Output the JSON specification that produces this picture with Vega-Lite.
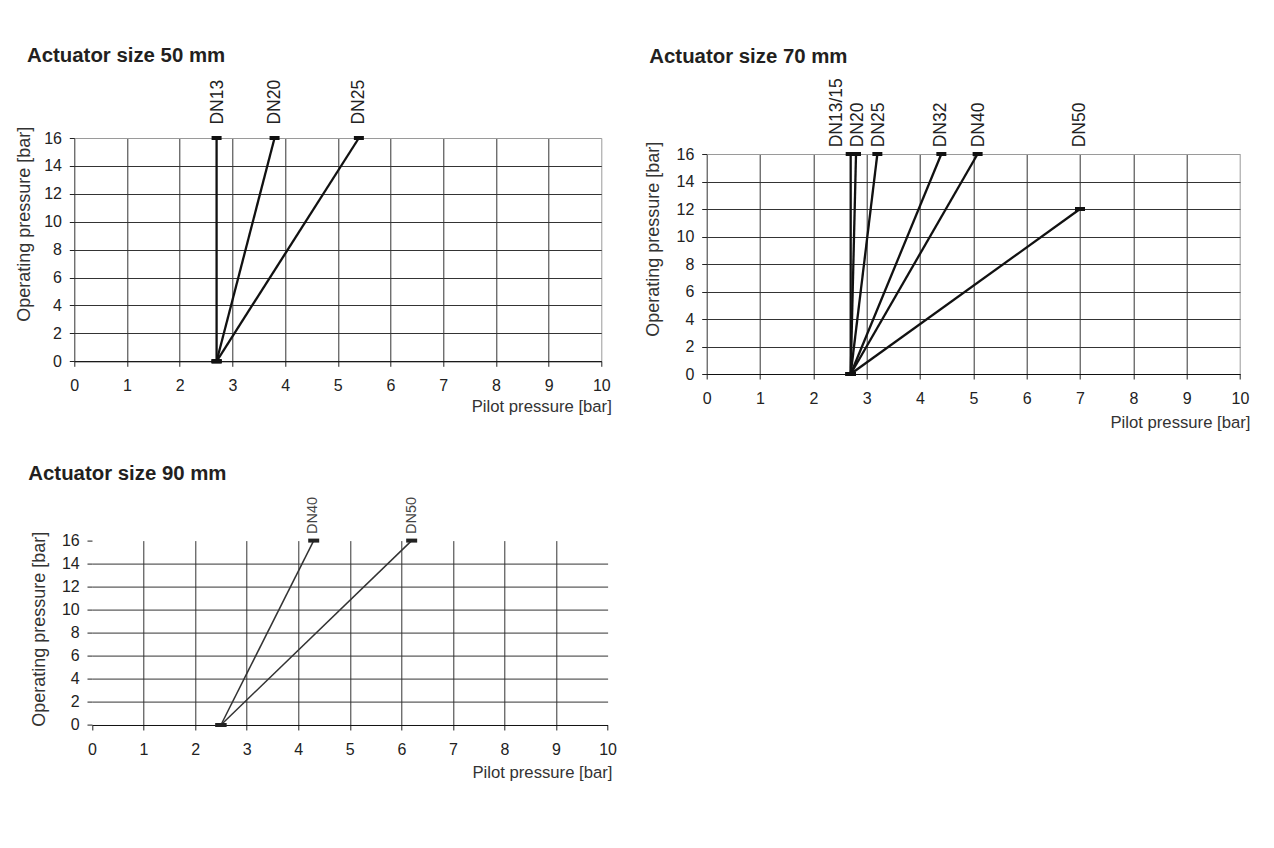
{
  "$schema": "https://vega.github.io/schema/vega-lite/v6.json",
  "background": "white",
  "padding": {"left": 15.3, "top": 46, "right": 10, "bottom": 10},
  "datasets": {
    "p50": [
      {"series": "DN13", "pilot": 2.7, "pressure": 0},
      {"series": "DN13", "pilot": 2.7, "pressure": 16},
      {"series": "DN20", "pilot": 2.7, "pressure": 0},
      {"series": "DN20", "pilot": 3.8, "pressure": 16},
      {"series": "DN25", "pilot": 2.7, "pressure": 0},
      {"series": "DN25", "pilot": 5.4, "pressure": 16}
    ],
    "p50labels": [
      {"label": "DN13", "pilot": 2.72, "pressure": 16},
      {"label": "DN20", "pilot": 3.81, "pressure": 16},
      {"label": "DN25", "pilot": 5.41, "pressure": 16}
    ],
    "p70": [
      {"series": "DN13/15", "pilot": 2.7, "pressure": 0},
      {"series": "DN13/15", "pilot": 2.7, "pressure": 16},
      {"series": "DN20", "pilot": 2.7, "pressure": 0},
      {"series": "DN20", "pilot": 2.8, "pressure": 16},
      {"series": "DN25", "pilot": 2.7, "pressure": 0},
      {"series": "DN25", "pilot": 3.2, "pressure": 16},
      {"series": "DN32", "pilot": 2.7, "pressure": 0},
      {"series": "DN32", "pilot": 4.4, "pressure": 16},
      {"series": "DN40", "pilot": 2.7, "pressure": 0},
      {"series": "DN40", "pilot": 5.08, "pressure": 16},
      {"series": "DN50", "pilot": 2.7, "pressure": 0},
      {"series": "DN50", "pilot": 7.0, "pressure": 12}
    ],
    "p70labels": [
      {"label": "DN13/15", "pilot": 2.44, "pressure": 16},
      {"label": "DN20", "pilot": 2.83, "pressure": 16},
      {"label": "DN25", "pilot": 3.24, "pressure": 16},
      {"label": "DN32", "pilot": 4.4, "pressure": 16},
      {"label": "DN40", "pilot": 5.1, "pressure": 16},
      {"label": "DN50", "pilot": 7.0, "pressure": 16}
    ],
    "p90": [
      {"series": "DN40", "pilot": 2.5, "pressure": 0},
      {"series": "DN40", "pilot": 4.3, "pressure": 16},
      {"series": "DN50", "pilot": 2.5, "pressure": 0},
      {"series": "DN50", "pilot": 6.2, "pressure": 16}
    ],
    "p90labels": [
      {"label": "DN40", "pilot": 4.28, "pressure": 16},
      {"label": "DN50", "pilot": 6.2, "pressure": 16}
    ]
  },
  "columns": 2,
  "bounds": "flush",
  "spacing": {"row": 166.6, "column": 98.4},
  "concat": [
    {
      "width": 527,
      "height": 223.3,
      "title": {"text": "Actuator size 50 mm", "dx": -47.3, "offset": 13},
      "layer": [
        {
          "data": {"name": "p50"},
          "mark": {"type": "line", "color": "#111", "strokeWidth": 2.3},
          "encoding": {
            "x": {
              "field": "pilot", "type": "quantitative",
              "scale": {"domain": [0, 10], "nice": false, "zero": false},
              "axis": {
                "values": [0, 1, 2, 3, 4, 5, 6, 7, 8, 9, 10],
                "tickCount": 30,
                "format": "d",
                "grid": true,
                "gridColor": {"condition": {"test": "datum.value === 10", "value": "#9a9a9a"}, "value": "#333"},
                "labelPadding": 10.7,
                "title": "Pilot pressure [bar]",
                "titleAnchor": "end", "titleAlign": "right", "titleBaseline": "alphabetic",
                "titleX": 537, "titleY": 50, "titleFontSize": 16.7
              }
            },
            "y": {
              "field": "pressure", "type": "quantitative",
              "scale": {"domain": [0, 16], "nice": false},
              "axis": {
                "values": [0, 2, 4, 6, 8, 10, 12, 14, 16],
                "tickCount": 30,
                "format": "d",
                "grid": true,
                "gridColor": {"condition": {"test": "datum.value === 16", "value": "#9a9a9a"}, "value": "#333"},
                "domain": false,
                "labelPadding": 7.8,
                "title": "Operating pressure [bar]",
                "titleAngle": 270, "titleAnchor": "end", "titleAlign": "right", "titleBaseline": "alphabetic",
                "titleX": -44.5, "titleY": -11.7, "titleFontSize": 18
              }
            },
            "detail": {"field": "series"},
            "order": {"field": "pressure", "type": "quantitative"}
          }
        },
        {
          "data": {"name": "p50"},
          "mark": {"type": "tick", "orient": "horizontal", "size": 10, "thickness": 4, "color": "#111", "opacity": 1},
          "encoding": {
            "x": {"field": "pilot", "type": "quantitative"},
            "y": {"field": "pressure", "type": "quantitative"}
          }
        },
        {
          "data": {"name": "p50labels"},
          "mark": {"type": "text", "angle": 270, "align": "left", "baseline": "middle", "dx": 13.4, "fontSize": 17.5, "color": "#222"},
          "encoding": {
            "x": {"field": "pilot", "type": "quantitative"},
            "y": {"field": "pressure", "type": "quantitative"},
            "text": {"field": "label"}
          }
        }
      ]
    },
    {
      "width": 533.3,
      "height": 236,
      "title": {"text": "Actuator size 70 mm", "dx": -57.4, "offset": 11.3},
      "resolve": {"axis": {"x": "independent"}},
      "layer": [
        {
          "data": {"name": "p70"},
          "mark": {"type": "line", "color": "#111", "strokeWidth": 2.3},
          "encoding": {
            "x": {
              "field": "pilot", "type": "quantitative",
              "scale": {"domain": [0, 10], "nice": false, "zero": false},
              "axis": {
                "orient": "bottom",
                "values": [0, 1, 2, 3, 4, 5, 6, 7, 8, 9, 10],
                "tickCount": 30,
                "format": "d",
                "grid": false,
                "labelPadding": 11.2,
                "title": "Pilot pressure [bar]",
                "titleAnchor": "end", "titleAlign": "right", "titleBaseline": "alphabetic",
                "titleX": 543.3, "titleY": 53.3, "titleFontSize": 16.7
              }
            },
            "y": {
              "field": "pressure", "type": "quantitative",
              "scale": {"domain": [0, 16], "range": [236, 16], "nice": false},
              "axis": {
                "values": [0, 2, 4, 6, 8, 10, 12, 14, 16],
                "tickCount": 30,
                "format": "d",
                "grid": true,
                "gridColor": {"condition": {"test": "datum.value === 16", "value": "#9a9a9a"}, "value": "#333"},
                "domain": false,
                "labelPadding": 7.8,
                "title": "Operating pressure [bar]",
                "titleAngle": 270, "titleAnchor": "end", "titleAlign": "right", "titleBaseline": "alphabetic",
                "titleX": -47.8, "titleY": 3.3, "titleFontSize": 18
              }
            },
            "detail": {"field": "series"},
            "order": {"field": "pressure", "type": "quantitative"}
          }
        },
        {
          "data": {"name": "p70"},
          "mark": {"type": "tick", "orient": "horizontal", "size": 10, "thickness": 4, "color": "#111", "opacity": 1},
          "encoding": {
            "x": {
              "field": "pilot", "type": "quantitative",
              "axis": {
                "orient": "top",
                "values": [0, 1, 2, 3, 4, 5, 6, 7, 8, 9, 10],
                "tickCount": 30,
                "grid": true,
                "gridColor": {"condition": {"test": "datum.value === 10", "value": "#9a9a9a"}, "value": "#333"},
                "labels": false,
                "ticks": false,
                "domain": false,
                "title": null
              }
            },
            "y": {"field": "pressure", "type": "quantitative"}
          }
        },
        {
          "data": {"name": "p70labels"},
          "mark": {"type": "text", "angle": 270, "align": "left", "baseline": "middle", "dx": 6.7, "fontSize": 17.5, "color": "#222"},
          "encoding": {
            "x": {"field": "pilot", "type": "quantitative", "axis": null},
            "y": {"field": "pressure", "type": "quantitative"},
            "text": {"field": "label"}
          }
        }
      ]
    },
    {
      "width": 533.3,
      "height": 184.4,
      "title": {"text": "Actuator size 90 mm", "dx": -46, "offset": 13},
      "layer": [
        {
          "data": {"name": "p90"},
          "mark": {"type": "line", "color": "#333", "strokeWidth": 1.5},
          "encoding": {
            "x": {
              "field": "pilot", "type": "quantitative",
              "scale": {"domain": [0, 10], "range": [17.7, 533.3], "nice": false, "zero": false},
              "axis": {
                "values": [0, 1, 2, 3, 4, 5, 6, 7, 8, 9, 10],
                "tickCount": 30,
                "format": "d",
                "grid": true,
                "gridColor": "#333",
                "gridOpacity": {"condition": {"test": "datum.value === 0 || datum.value === 10", "value": 0}, "value": 1},
                "labelPadding": 11.9,
                "title": "Pilot pressure [bar]",
                "titleAnchor": "end", "titleAlign": "right", "titleBaseline": "alphabetic",
                "titleX": 537.7, "titleY": 53, "titleFontSize": 16.7
              }
            },
            "y": {
              "field": "pressure", "type": "quantitative",
              "scale": {"domain": [0, 16], "nice": false},
              "axis": {
                "values": [0, 2, 4, 6, 8, 10, 12, 14, 16],
                "tickCount": 30,
                "format": "d",
                "grid": true,
                "gridColor": "#333",
                "gridOpacity": {"condition": {"test": "datum.value === 0 || datum.value === 16", "value": 0}, "value": 1},
                "domain": false,
                "offset": -17.7,
                "labelPadding": 7.8,
                "title": "Operating pressure [bar]",
                "titleAngle": 270, "titleAnchor": "end", "titleAlign": "right", "titleBaseline": "alphabetic",
                "titleX": -47.2, "titleY": -9.3, "titleFontSize": 18
              }
            },
            "detail": {"field": "series"},
            "order": {"field": "pressure", "type": "quantitative"}
          }
        },
        {
          "data": {"name": "p90"},
          "mark": {"type": "tick", "orient": "horizontal", "size": 11, "thickness": 4, "color": "#222", "opacity": 1},
          "encoding": {
            "x": {"field": "pilot", "type": "quantitative"},
            "y": {"field": "pressure", "type": "quantitative"}
          }
        },
        {
          "data": {"name": "p90labels"},
          "mark": {"type": "text", "angle": 270, "align": "left", "baseline": "middle", "dx": 6.6, "fontSize": 14.5, "color": "#444"},
          "encoding": {
            "x": {"field": "pilot", "type": "quantitative"},
            "y": {"field": "pressure", "type": "quantitative"},
            "text": {"field": "label"}
          }
        }
      ]
    }
  ],
  "config": {
    "font": "Liberation Sans",
    "view": {"stroke": null},
    "axis": {
      "labelFontSize": 16,
      "labelColor": "#222",
      "labelFlush": false,
      "labelOverlap": false,
      "tickColor": "#222",
      "tickSize": 5,
      "tickWidth": 1,
      "domainColor": "#111",
      "gridWidth": 1,
      "titleFontWeight": "normal",
      "titleColor": "#333"
    },
    "title": {
      "fontSize": 20.4,
      "fontWeight": "bold",
      "color": "#231f20",
      "anchor": "start",
      "frame": "group",
      "baseline": "alphabetic"
    }
  }
}
